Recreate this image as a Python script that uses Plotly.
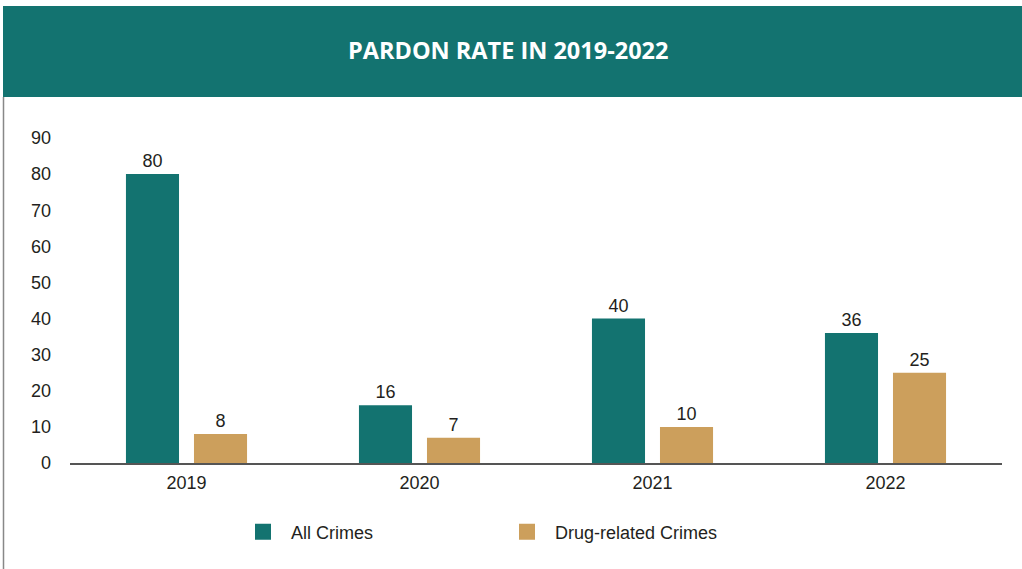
import plotly.graph_objects as go

years = ["2019", "2020", "2021", "2022"]
all_crimes = [80, 16, 40, 36]
drug_crimes = [8, 7, 10, 25]
series_names = ["All Crimes", "Drug-related Crimes"]
title_text = "PARDON RATE IN 2019-2022"

TEAL = "#137370"
TAN = "#CC9F5C"
TXT = "#231f20"

W, H = 1022, 569
ML, MR, MT, MB = 70, 20, 138, 106
PW, PH = W - ML - MR, H - MT - MB

def px_x(x):
    return (x - ML) / PW

def px_y(y):
    return (H - MB - y) / PH

fig = go.Figure()
for name, vals, col in [(series_names[0], all_crimes, TEAL), (series_names[1], drug_crimes, TAN)]:
    fig.add_trace(go.Bar(
        x=years, y=vals, name=name, showlegend=False,
        marker=dict(color=col, line=dict(width=0)),
        text=[str(v) for v in vals], textposition="outside",
        textfont=dict(family="Liberation Sans, Arial", size=18, color=TXT),
        cliponaxis=False,
    ))
for name, col in [(series_names[0], TEAL), (series_names[1], TAN)]:
    fig.add_trace(go.Scatter(
        x=[None], y=[None], name=name, mode="markers",
        marker=dict(symbol="square", size=16, color=col),
    ))

fig.update_layout(
    width=W, height=H,
    margin=dict(l=ML, r=MR, t=MT, b=MB, pad=0),
    paper_bgcolor="white", plot_bgcolor="white",
    barmode="group", bargap=0.416, bargroupgap=0.22,
    font=dict(family="Liberation Sans, Arial", size=18, color=TXT),
    xaxis=dict(showline=True, linecolor="#555555", linewidth=1.5, ticks="",
               showgrid=False, ticklabelstandoff=3,
               tickfont=dict(size=18, color=TXT)),
    yaxis=dict(range=[0, 90], dtick=10, showgrid=False, zeroline=False,
               showline=False, ticks="", ticklabelstandoff=18,
               tickfont=dict(size=18, color=TXT)),
    showlegend=True,
    legend=dict(orientation="h", x=px_x(235), xanchor="left", y=px_y(532), yanchor="middle",
                itemwidth=46, entrywidth=203, entrywidthmode="pixels",
                font=dict(size=18, color=TXT), bgcolor="rgba(0,0,0,0)"),
    shapes=[
        dict(type="rect", xref="paper", yref="paper",
             x0=px_x(3), x1=px_x(1023), y0=px_y(97), y1=px_y(6),
             fillcolor=TEAL, line=dict(width=0), layer="below"),
        dict(type="line", xref="paper", yref="paper",
             x0=px_x(3.5), x1=px_x(3.5), y0=px_y(97), y1=px_y(570),
             line=dict(color="#888888", width=1.5)),
    ],
    annotations=[
        dict(text="<b>" + title_text + "</b>", xref="paper", yref="paper",
             x=px_x(508), y=px_y(50), xanchor="center", yanchor="middle",
             showarrow=False,
             font=dict(family="Open Sans", size=23.5, color="white")),
    ],
)

fig.write_html("out.html")
